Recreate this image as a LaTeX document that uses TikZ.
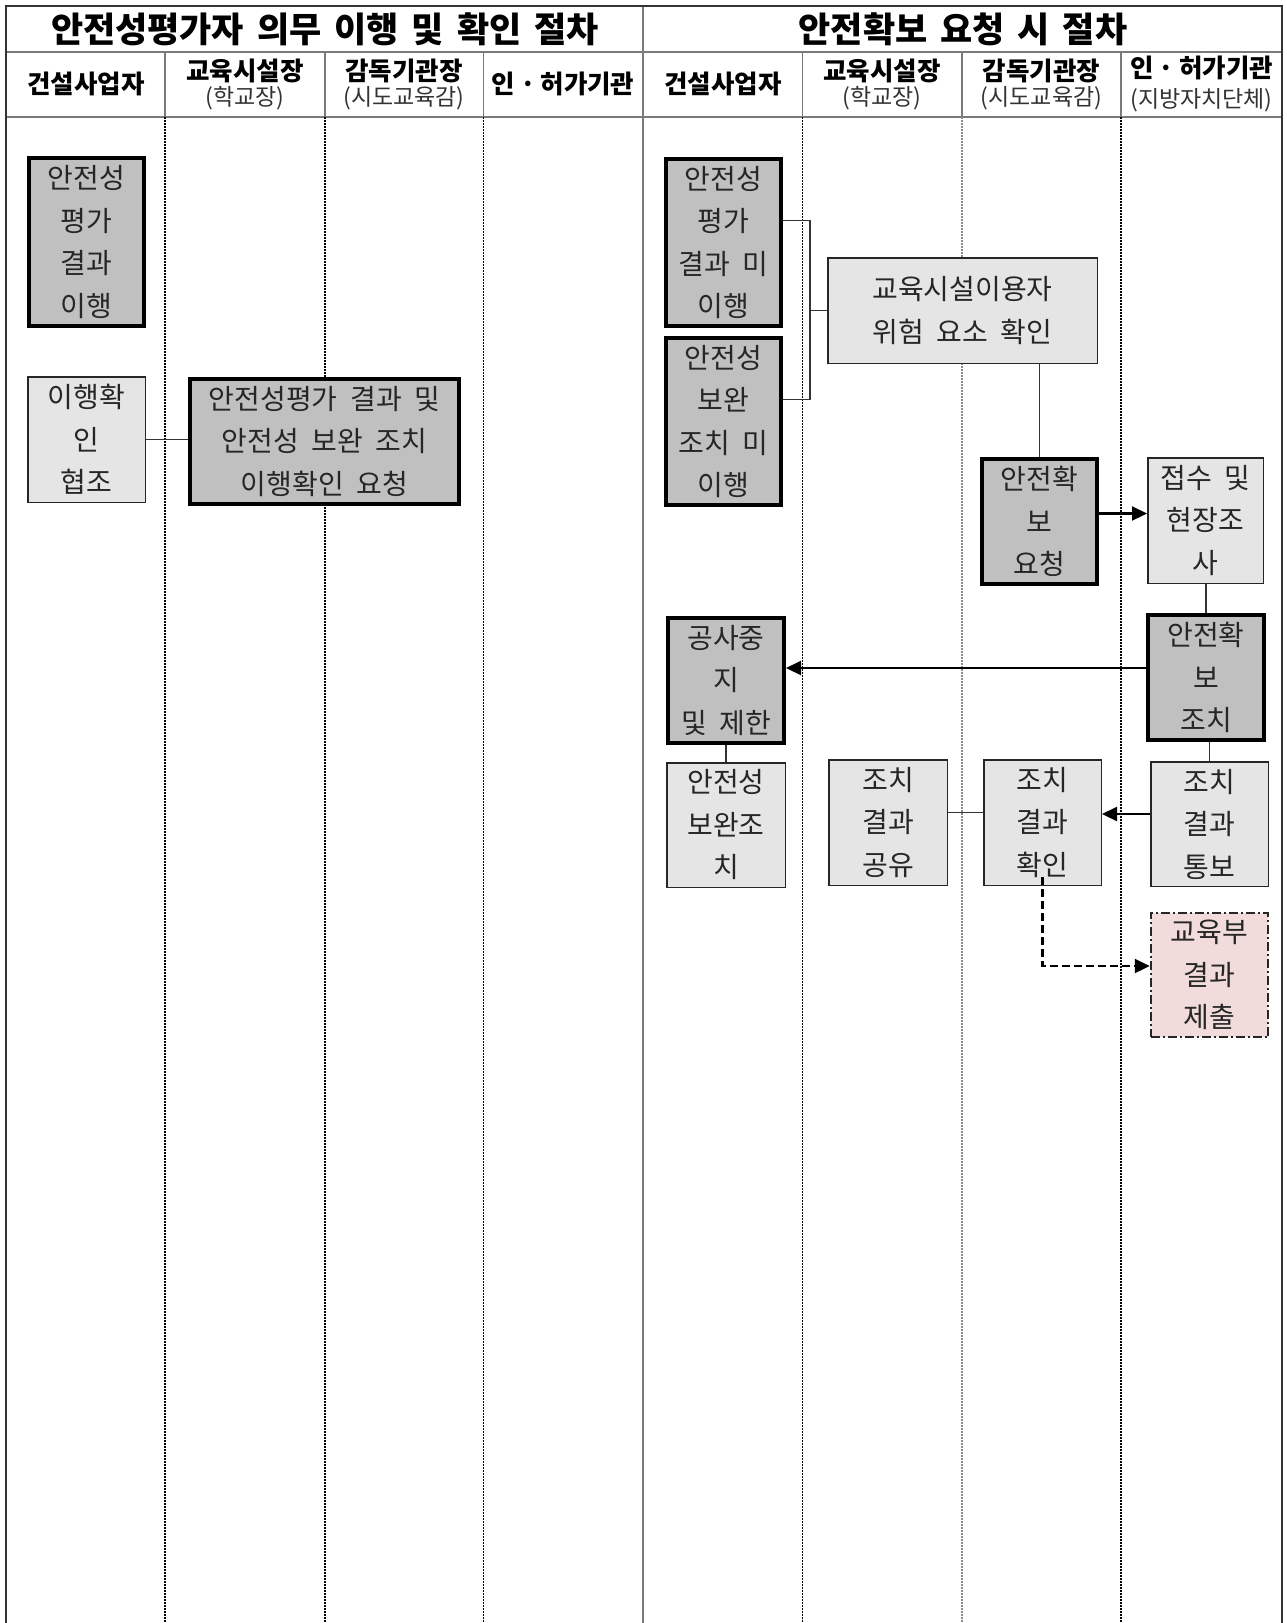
\documentclass[tikz,border=0pt]{standalone}
\usepackage{fontspec}
\setmainfont{Noto Sans CJK KR}[WordSpace=2]
\usepackage{xcolor}
\usetikzlibrary{arrows.meta}
\usetikzlibrary{positioning}

\definecolor{stepgray}{HTML}{C0C0C0}
\definecolor{notegray}{HTML}{E5E5E5}
\definecolor{reportpink}{HTML}{F2DCDB}
\definecolor{gridgray}{HTML}{7A7A7A}

\tikzset{
  boxtext/.style={align=center, inner sep=0pt, text=black!85,
    font=\fontsize{28}{42.5}\selectfont},
  mainstep/.style={boxtext, draw=black, line width=4pt, fill=stepgray},
  substep/.style={boxtext, draw=black!85, line width=1.5pt, fill=notegray},
  reportstep/.style={boxtext, draw=black!85, line width=2pt, fill=reportpink,
    dash pattern=on 9pt off 3pt on 2pt off 3pt},
  flow/.style={line width=2.2pt, -{Triangle[length=15pt,width=14pt]}},
  link/.style={line width=1.4pt, black!80},
  lane/.style={line width=1.4pt, dash pattern=on 1.5pt off 1.5pt},
  grid/.style={gridgray, line width=1.8pt},
  title/.style={font={\fontsize{35}{35}\bfseries\spaceskip 13pt\relax}},
  lanehead/.style={font={\fontsize{25.5}{26}\bfseries\spaceskip 5pt\relax}},
  lanesub/.style={font=\fontsize{23}{24}\selectfont, text=black!80},
}

\begin{document}
\begin{tikzpicture}[x=1pt, y=-1pt]
  \useasboundingbox (0,0) rectangle (1287,1623);

  % table frame
  \draw[grid] (6,52) -- (1282,52);
  \draw[grid] (6,117) -- (1282,117);
  \foreach \x in {165,325,483.5,802.5,962,1121}
    \draw[grid] (\x,52) -- (\x,117);
  \foreach \x in {165,325,483.5,802.5,1121}
    \draw[lane, black] (\x,117) -- (\x,1623);
  \draw[lane, black!45] (962,117) -- (962,1623);
  \draw[grid] (643,6) -- (643,1623);
  \draw[black!80, line width=2.5pt] (6,1623) -- (6,6) -- (1282,6) -- (1282,1623);

  % headers
  \node[title] (tleft) at (325,29) {안전성평가자 의무 이행 및 확인 절차};
  \node[title] (tright) at (963,29) {안전확보 요청 시 절차};

  \node[lanehead] (hA) at (86,84) {건설사업자};
  \node[lanehead] (hB) at (245,70.5) {교육시설장};
  \node[lanesub] (hBs) at (245,98) {(학교장)};
  \node[lanehead] (hC) at (404,70.5) {감독기관장};
  \node[lanesub] (hCs) at (404,98) {(시도교육감)};
  \node[lanehead] (hD) at (563,84) {인 · 허가기관};

  \node[lanehead] (hE) at (723,84) {건설사업자};
  \node[lanehead] (hF) at (882,70.5) {교육시설장};
  \node[lanesub] (hFs) at (882,98) {(학교장)};
  \node[lanehead] (hG) at (1041.5,70.5) {감독기관장};
  \node[lanesub] (hGs) at (1041.5,98) {(시도교육감)};
  \node[lanehead] (hH) at (1201.5,68) {인 · 허가기관};
  \node[lanesub] (hHs) at (1201.5,100) {(지방자치단체)};

  % left procedure
  \node[mainstep, minimum width=115, minimum height=168] (doeval) at (86.5,242)
    {안전성\\평가\\결과\\이행};
  \node[substep, minimum width=117.5, minimum height=125.5] (helpchk) at (86.5,439.5)
    {이행확\\인\\협조};
  \node[mainstep, minimum width=269, minimum height=125] (askchk) at (324.5,441.5)
    {안전성평가 결과 및\\안전성 보완 조치\\이행확인 요청};
  \draw[link] (helpchk.east) -- (helpchk.east -| askchk.west);

  % right procedure
  \node[mainstep, minimum width=115, minimum height=167] (noeval) at (723.5,242.5)
    {안전성\\평가\\결과 미\\이행};
  \node[mainstep, minimum width=115, minimum height=167] (nofix) at (723.5,421.5)
    {안전성\\보완\\조치 미\\이행};
  \node[substep, minimum width=269.5, minimum height=105.5] (risk) at (962.5,310.5)
    {교육시설이용자\\위험 요소 확인};
  \node[mainstep, minimum width=115, minimum height=125] (asksafe) at (1039.5,521.5)
    {안전확\\보\\요청};
  \node[substep, minimum width=115.5, minimum height=125.5] (survey) at (1205.5,520.5)
    {접수 및\\현장조\\사};
  \node[mainstep, minimum width=116, minimum height=125] (dosafe) at (1206,677.5)
    {안전확\\보\\조치};
  \node[mainstep, minimum width=116, minimum height=125] (halt) at (726,680.5)
    {공사중\\지\\및 제한};
  \node[substep, minimum width=118.5, minimum height=124.5] (fixup) at (726,825)
    {안전성\\보완조\\치};
  \node[substep, minimum width=118.5, minimum height=125.5] (share) at (888,822.5)
    {조치\\결과\\공유};
  \node[substep, minimum width=117.5, minimum height=125.5] (verify) at (1042.5,822.5)
    {조치\\결과\\확인};
  \node[substep, minimum width=117.5, minimum height=124.5] (notify) at (1209.5,824)
    {조치\\결과\\통보};
  \node[reportstep, minimum width=117.5, minimum height=124.5] (submit) at (1209.5,975)
    {교육부\\결과\\제출};

  % bracket
  \draw[link] ([yshift=22pt]noeval.east) -- ++(27,0) |- ([yshift=22pt]nofix.east);
  \draw[link] (risk.west) -- ++(-18,0);
  \draw[link] (asksafe.north) -- (asksafe.north |- risk.south);

  % arrows
  \draw[flow] ([yshift=8pt]asksafe.east) -- ([yshift=8pt]asksafe.east -| survey.west);
  \draw[link] (dosafe.north) -- (dosafe.north |- survey.south);
  \draw[flow] ([yshift=9.5pt]dosafe.west) -- ([yshift=9.5pt]dosafe.west -| halt.east);
  \draw[link] (halt.south) -- (fixup.north);
  \draw[link] (notify.north) -- (notify.north |- dosafe.south);
  \draw[flow] ([yshift=10pt]notify.west) -- ([yshift=10pt]notify.west -| verify.east);
  \draw[link] ([yshift=10pt]share.east) -- ([yshift=10pt]share.east -| verify.west);
  \draw[flow, dash pattern=on 8pt off 4pt] ([yshift=9pt]verify.south) |- ([yshift=9pt]submit.west);
\end{tikzpicture}
\end{document}
